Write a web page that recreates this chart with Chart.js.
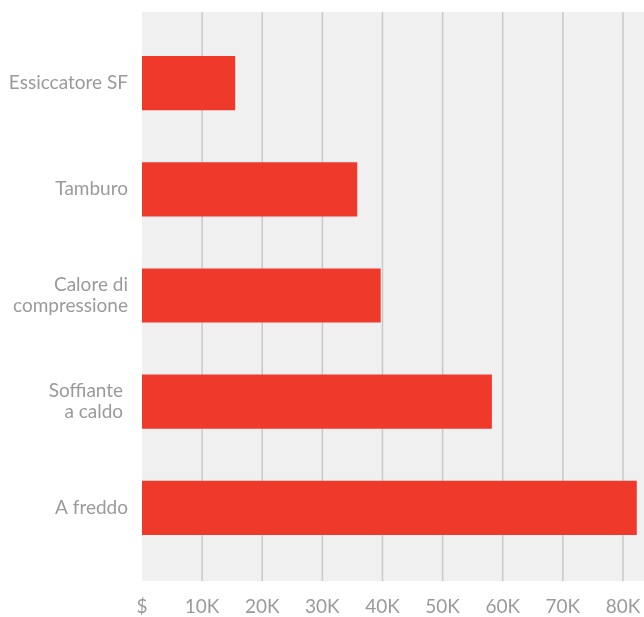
<!DOCTYPE html>
<html>
<head>
<meta charset="utf-8">
<script src="https://cdn.jsdelivr.net/npm/chart.js@4.4.0/dist/chart.umd.min.js"></script>
<style>
    body { margin: 0; background: #fff; }
    #wrap { width: 644px; height: 617px; position: relative; }
</style>
</head>
<body>
<div id="wrap"><canvas id="cost-chart"></canvas></div>
<script>
const categories = ['Essiccatore SF', 'Tamburo', ['Calore di', 'compressione'], ['Soffiante ', 'a caldo '], 'A freddo'];
const costs = [15500, 35800, 39700, 58200, 82300];
const xTickValues = [0, 10000, 20000, 30000, 40000, 50000, 60000, 70000, 80000];
const xTickLabels = ['$', '10K', '20K', '30K', '40K', '50K', '60K', '70K', '80K'];

const textColor = '#9a9a9a';
const fontFamily = 'Lato, "Noto Sans", sans-serif';

// gray panel + vertical lines, a bit taller than the chart area
const panelPlugin = {
    id: 'panel',
    beforeDatasetsDraw(chart) {
        const { ctx, chartArea } = chart;
        const xScale = chart.scales.x;
        const top = chartArea.top - 18;
        const bottom = chartArea.bottom + 20;
        ctx.save();
        ctx.fillStyle = '#f0f0f0';
        ctx.fillRect(chartArea.left, top, chartArea.right - chartArea.left, bottom - top);
        ctx.strokeStyle = '#c9c9c9';
        ctx.lineWidth = 1.5;
        xTickValues.forEach(v => {
            if (v === 0) return;
            const x = xScale.getPixelForValue(v);
            ctx.beginPath();
            ctx.moveTo(x, top);
            ctx.lineTo(x, bottom);
            ctx.stroke();
        });
        ctx.restore();
    }
};

new Chart(document.getElementById('cost-chart'), {
    type: 'bar',
    data: {
        labels: categories,
        datasets: [{
            data: costs,
            backgroundColor: '#ef392b',
            categoryPercentage: 1,
            barPercentage: 0.51
        }]
    },
    plugins: [panelPlugin],
    options: {
        indexAxis: 'y',
        responsive: true,
        maintainAspectRatio: false,
        animation: false,
        layout: { padding: { top: 30, right: 0, left: 0, bottom: 0 } },
        plugins: {
            legend: { display: false },
            tooltip: { enabled: false }
        },
        scales: {
            x: {
                min: 0,
                max: 83500,
                afterFit(scale) {
                    scale.height = 56;
                    scale.paddingLeft = 0;
                    scale.paddingRight = 0;
                },
                afterBuildTicks(scale) {
                    scale.ticks = xTickValues.map(v => ({ value: v }));
                },
                grid: { display: false },
                border: { display: false },
                ticks: {
                    includeBounds: false,
                    padding: 26,
                    color: textColor,
                    font: { family: fontFamily, size: 19 },
                    maxRotation: 0,
                    autoSkip: false,
                    callback: (value, index) => xTickLabels[index]
                }
            },
            y: {
                afterFit(scale) {
                    scale.width = 142;
                    scale.paddingTop = 0;
                    scale.paddingBottom = 0;
                },
                grid: { display: false },
                border: { display: false },
                ticks: {
                    padding: 6,
                    color: textColor,
                    font: { family: fontFamily, size: 19, lineHeight: 1.1 }
                }
            }
        }
    }
});
</script>
</body>
</html>
